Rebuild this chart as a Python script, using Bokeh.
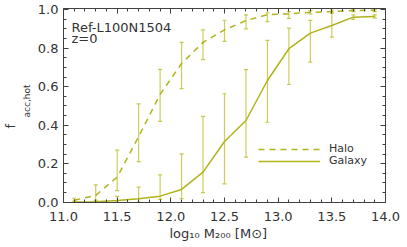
import numpy as np
from bokeh.plotting import figure
from bokeh.models import (LinearAxis, Label, Legend, LegendItem, Whisker, TeeHead, Title,
                          ColumnDataSource, SingleIntervalTicker, CustomJSTickFormatter)
from bokeh.embed import file_html
from bokeh.resources import INLINE

# ---- data ----
mass = [11.1, 11.3, 11.5, 11.7, 11.9, 12.1, 12.3, 12.5, 12.7, 12.9, 13.1, 13.3, 13.5, 13.7, 13.9]
halo = [0.01, 0.035, 0.13, 0.34, 0.56, 0.72, 0.83, 0.895, 0.943, 0.974, 0.978, 0.986, 0.99, 0.995, 0.998]
halo_lo = [0.0, 0.005, 0.06, 0.21, 0.42, 0.59, 0.74, 0.835, 0.90, 0.938, 0.955, 0.978, 0.98, 0.99, 0.99]
halo_hi = [0.02, 0.09, 0.27, 0.51, 0.69, 0.83, 0.895, 0.945, 0.973, 0.984, 0.99, 0.995, 0.998, 1.0, 1.0]
galaxy = [0.0, 0.002, 0.009, 0.018, 0.031, 0.066, 0.156, 0.315, 0.424, 0.632, 0.797, 0.878, 0.918, 0.961, 0.965]
gal_lo = [0.0, 0.0, 0.0, 0.0, 0.014, 0.018, 0.049, 0.095, 0.234, 0.415, 0.611, 0.727, 0.857, 0.949, 0.956]
gal_hi = [0.005, 0.01, 0.03, 0.078, 0.142, 0.251, 0.446, 0.563, 0.688, 0.84, 0.904, 0.944, 0.987, 0.973, 0.973]

LINE = "#b2b21a"
BAR = "#c8c84c"
AX = "#404040"
TXT = "#333333"
FONT = "DejaVu Sans"

p = figure(width=407, height=247, x_range=(11.0, 14.0), y_range=(-0.002, 1.006),
           output_backend="svg", toolbar_location=None,
           min_border_left=57, min_border_right=22, min_border_top=8, min_border_bottom=45)
p.xgrid.visible = False
p.ygrid.visible = False
p.outline_line_color = None
p.background_fill_color = "white"
p.border_fill_color = "white"

def style_axis(ax, labels=True):
    ax.axis_line_color = AX
    ax.axis_line_width = 1
    ax.major_tick_line_color = AX
    ax.minor_tick_line_color = AX
    ax.major_tick_in = 5
    ax.major_tick_out = 0
    ax.minor_tick_in = 3
    ax.minor_tick_out = 0
    if labels:
        ax.major_label_text_font = FONT
        ax.major_label_text_font_size = "13px"
        ax.major_label_text_color = TXT
    else:
        ax.major_label_text_alpha = 0
        ax.major_label_text_font_size = "1px"
        ax.major_label_standoff = 0

p.xaxis.ticker = SingleIntervalTicker(interval=0.5, num_minor_ticks=5)
p.yaxis.ticker = SingleIntervalTicker(interval=0.2, num_minor_ticks=4)
p.xaxis.formatter = CustomJSTickFormatter(code="return tick.toFixed(1)")
p.yaxis.formatter = CustomJSTickFormatter(code="return tick.toFixed(1)")
style_axis(p.xaxis[0])
style_axis(p.yaxis[0])
p.xaxis.major_label_standoff = 9
p.yaxis.major_label_standoff = 5

top = LinearAxis(ticker=SingleIntervalTicker(interval=0.5, num_minor_ticks=5))
right = LinearAxis(ticker=SingleIntervalTicker(interval=0.2, num_minor_ticks=4))
style_axis(top, labels=False)
style_axis(right, labels=False)
p.add_layout(top, "above")
p.add_layout(right, "right")

src = ColumnDataSource(dict(m=mass, halo=halo, hlo=halo_lo, hhi=halo_hi,
                            gal=galaxy, glo=gal_lo, ghi=gal_hi))

for lo, hi in (("hlo", "hhi"), ("glo", "ghi")):
    w = Whisker(source=src, base="m", lower=lo, upper=hi, dimension="height",
                line_color=BAR, line_width=1.2, line_alpha=0.9,
                upper_head=TeeHead(size=4, line_color=BAR, line_width=1.2),
                lower_head=TeeHead(size=4, line_color=BAR, line_width=1.2))
    p.add_layout(w)

r_halo = p.line("m", "halo", source=src, line_color=LINE, line_width=1.5, line_dash="6 5")
r_gal = p.line("m", "gal", source=src, line_color=LINE, line_width=1.5)

def leg(label, r, y):
    p.add_layout(Legend(items=[LegendItem(label=label, renderers=[r])],
                        location=(195, y), border_line_color=None, background_fill_alpha=0,
                        glyph_width=62, glyph_height=12, label_height=12, spacing=0,
                        padding=0, margin=0, label_standoff=9,
                        label_text_font=FONT, label_text_font_size="11px",
                        label_text_color=TXT))

leg("Halo", r_halo, 47)
leg("Galaxy", r_gal, 35)

def lab(text, xo, yo, size):
    p.add_layout(Label(x=11.0, y=0.0, x_offset=xo, y_offset=yo, text=text,
                       text_font=FONT, text_font_size=size, text_color=TXT,
                       text_baseline="alphabetic", text_align="left"))

# corner annotation
lab("Ref-L100N1504", 8, 175, "13px")
lab("z=0", 8, 163.5, "13px")

def title(text, side, offset, standoff, size, valign="bottom"):
    p.add_layout(Title(text=text, align="left", offset=offset, standoff=standoff,
                       vertical_align=valign, text_font=FONT, text_font_size=size,
                       text_font_style="normal", text_color=TXT), side)

# x axis label
title("log\u2081\u2080 M\u2082\u2080\u2080 [M\u2299]", "below", 106, 0, "13px")

# y axis label: f_acc,hot (two stacked titles)
title("acc,hot", "left", 85, 5, "9px")
title("f", "left", 74, 0, "13px")

open("out.html", "w").write(file_html(p, INLINE))
